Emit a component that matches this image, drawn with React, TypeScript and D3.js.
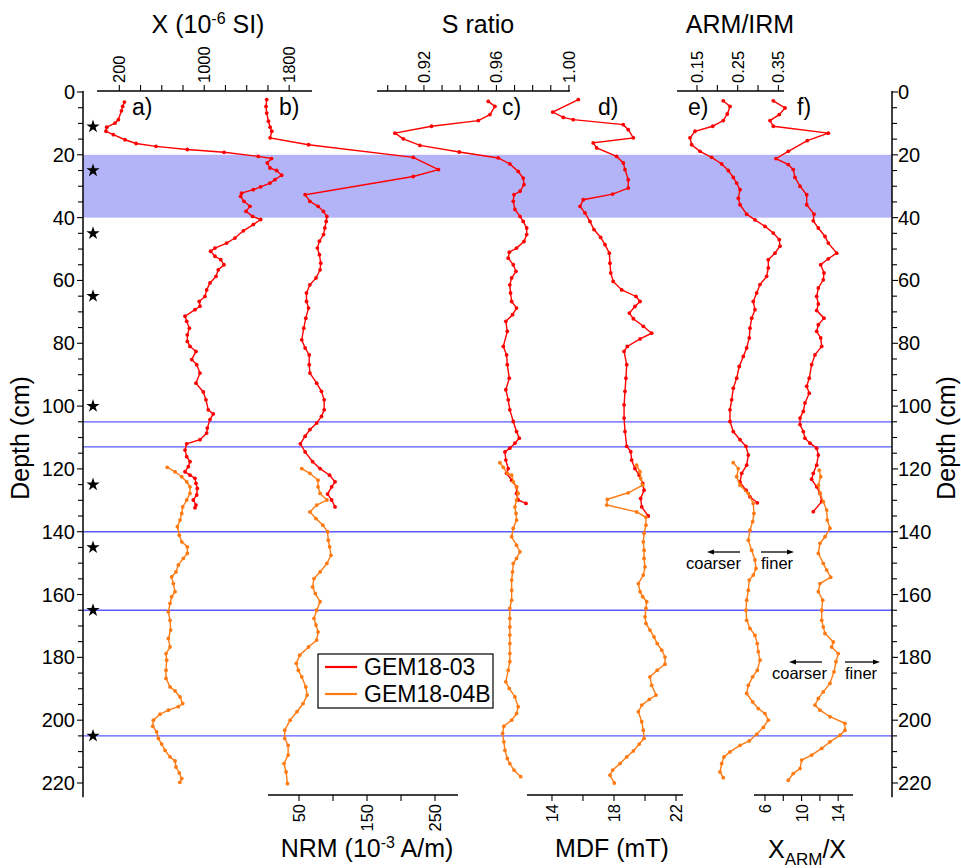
import React from "react";
import * as d3 from "d3";

// ---------- data: [depth (cm), value] ----------
const chi03: [number, number][] = [[3.2,248],[4.6,232],[6,220],[8.8,191],[9.9,160],[11.2,82],[12.5,75],[13.6,144],[15.2,254],[16.4,358],[17.3,546],[18.3,841],[19.2,1186],[20.5,1509],[21.2,1634],[22.6,1594],[24.2,1619],[25,1682],[26.5,1729],[27.9,1666],[29,1619],[30.2,1531],[31.1,1462],[32.2,1352],[33.2,1343],[34.8,1374],[36.4,1431],[38,1393],[39.6,1456],[40.6,1531],[42.2,1462],[44.2,1368],[46.5,1289],[48.1,1211],[49.7,1101],[50.7,1060],[52.3,1101],[53.4,1155],[55,1186],[56.6,1132],[58.7,1111],[60.8,1054],[63,1023],[65.1,1007],[66.7,953],[68.2,960],[69.3,913],[71.4,819],[73,835],[75.2,860],[77.3,841],[79.4,841],[81,866],[82.6,922],[85.2,882],[86.8,929],[89.5,960],[92.7,922],[95.5,991],[98,1016],[101.2,1038],[102.5,1085],[104.3,1054],[107,1029],[108.6,1023],[110.7,960],[112,835],[114,819],[116.1,835],[117.7,866],[119.3,850],[120.9,819],[122,866],[123,913],[124.6,922],[126.2,935],[128.3,929],[129.9,897],[131.5,922],[132.4,913]];
const chi04: [number, number][] = [[119.5,652],[120.9,725],[122.5,788],[124.1,835],[125.7,866],[127.8,866],[129.9,835],[132.1,797],[134.2,788],[136.3,772],[138.4,747],[141.1,765],[143.2,788],[144.8,841],[146.9,841],[148.5,803],[150.6,756],[152.8,734],[154.4,693],[156.5,709],[159.1,725],[160.7,693],[162.8,678],[165.5,662],[168.2,678],[171.3,684],[174,662],[176.7,678],[178.8,640],[180.9,646],[184.1,640],[186.7,640],[189.4,678],[190.7,725],[192.6,772],[194.7,797],[195.7,756],[196.8,662],[198.1,584],[200,521],[201.9,515],[203.7,552],[205.8,568],[207.6,599],[209.6,631],[211.7,678],[213,725],[214.9,734],[216.8,765],[218.6,788],[219.8,770]];

const nrm03: [number, number][] = [[2.4,2.5],[4.6,1.5],[6.7,2.5],[9.3,5],[11.2,7.5],[12.5,10],[14.6,7.5],[16.8,64],[20.8,218],[24.7,255],[26.9,218],[32.7,59],[34.8,66],[36.4,78],[38,86],[39.6,91],[41.2,90],[43.3,88],[45.4,86],[47.5,80],[49.7,77],[51.8,80],[54.5,82],[56.6,81],[59.2,75],[61.4,66],[64,61],[66.7,61],[68.8,64],[72,60],[75.2,57],[78.9,54],[81.5,59],[83.7,65],[86.8,65],[89.5,66],[92.7,76],[95.3,83],[98,87],[101.2,87],[103.3,83],[105.4,76],[107.5,66],[109.6,59],[112,52],[114.6,59],[117.7,70],[119.9,81],[122,95],[124.1,103],[125.7,98],[128,92],[129.9,98],[132.1,103]];
const nrm04: [number, number][] = [[119.9,54],[121.4,66],[123.6,78],[125.7,78],[127.8,81],[129.9,91],[131.5,76],[133.7,66],[135.8,75],[137.9,85],[140,92],[142.7,93],[144.8,95],[147.5,97],[150.1,91],[152.8,81],[154.9,72],[157.6,70],[159.7,74],[162.3,81],[165,76],[167.6,72],[169.7,75],[171.9,78],[174.5,76],[176.7,64],[179.3,51],[181.9,46],[184.1,49],[186.2,54],[189.4,60],[192,62],[194.7,56],[197.3,47],[200,37],[203.2,29],[205.8,29],[208,34],[211.1,34],[213.8,28],[216.5,31],[220.2,33]];

const sr03: [number, number][] = [[3,0.9555],[4.6,0.9592],[7.2,0.9564],[9.1,0.95],[10.9,0.9242],[13.1,0.904],[14.9,0.9086],[17,0.9178],[19.1,0.9395],[21,0.961],[22.9,0.9674],[25.3,0.972],[27.4,0.9748],[29.5,0.9752],[31.6,0.973],[32.7,0.9697],[34.8,0.9693],[37.4,0.9702],[39.6,0.973],[41.2,0.9748],[43.3,0.9767],[45.4,0.9767],[47.6,0.9752],[49.7,0.9711],[51,0.9671],[52.9,0.9665],[55,0.9693],[57.1,0.9708],[59.2,0.9684],[61.4,0.9674],[64,0.9678],[66.7,0.9684],[68.8,0.9711],[70.9,0.9689],[73,0.9652],[76.2,0.966],[81,0.9638],[83.7,0.9656],[86.8,0.966],[91.1,0.9671],[94.8,0.9652],[98,0.9665],[101.2,0.9674],[104.9,0.9693],[108.1,0.9711],[110.2,0.9726],[111.8,0.9702],[113.4,0.9674],[114.6,0.9647],[117.2,0.9652],[119.9,0.9665],[121.4,0.9656],[123.6,0.9684],[125.7,0.9711],[127.8,0.9711],[129.9,0.972],[131,0.9763]];
const sr04: [number, number][] = [[118,0.9619],[119.5,0.9638],[121.4,0.966],[122,0.9684],[124.1,0.9693],[125.7,0.9711],[127.8,0.972],[129.9,0.9711],[132.1,0.9702],[134.2,0.9708],[136.3,0.9711],[138.9,0.9693],[141.6,0.9684],[144.3,0.9711],[146.4,0.973],[148.5,0.9711],[150.1,0.9693],[152.8,0.9689],[155.4,0.9684],[158.6,0.9684],[161.8,0.9684],[164.4,0.9674],[167.6,0.9674],[170.3,0.9674],[172.9,0.9674],[175.6,0.9674],[178.8,0.9674],[181.4,0.9674],[184.1,0.9665],[187.8,0.9652],[189.9,0.9671],[192.6,0.9702],[195.7,0.972],[197.9,0.9711],[200,0.9684],[201.9,0.9641],[204.2,0.9634],[206.9,0.9641],[209.6,0.9647],[212.2,0.966],[213.8,0.9674],[215.9,0.9697],[218,0.9734]];

const mdf03: [number, number][] = [[2.4,15.7],[6.4,14.05],[8.1,14.73],[8.8,15.37],[10.4,18.6],[12,18.92],[14.6,19.25],[16.2,16.66],[17.8,16.88],[20.5,18.17],[22.6,18.6],[24.7,18.71],[27.9,18.92],[30.6,18.92],[32.5,17.91],[34.3,16.02],[36.4,15.81],[38.5,16.13],[41.2,16.45],[43.8,16.71],[46.3,17.14],[48.6,17.42],[51.3,17.7],[54.5,17.74],[57.6,17.79],[60.3,17.95],[63,18.5],[65.1,19.42],[66.7,19.68],[68.3,19.35],[70.4,18.99],[72.2,19.25],[74.6,19.89],[76.8,20.43],[78.6,19.68],[81,18.86],[82.6,18.65],[86.8,18.82],[91.1,18.77],[95.3,18.71],[99.6,18.65],[103.8,18.65],[108.1,18.71],[112.8,18.82],[114.5,19.08],[117.2,19.14],[119.9,19.35],[122,19.63],[124.6,19.85],[126.8,19.94],[129.4,19.72],[132.1,19.79],[135,20.21]];
const mdf04: [number, number][] = [[118.8,19.46],[120.9,19.68],[123,19.72],[125.2,19.85],[127.6,18.92],[129.7,17.57],[131.5,17.53],[133.7,19.46],[135.4,20.06],[137.9,20.06],[140.5,19.94],[143.2,19.89],[145.9,19.94],[148.5,19.94],[151.2,20],[153.8,19.89],[156.5,19.57],[159.1,19.68],[160.7,19.85],[162.3,20.11],[164.4,20.06],[167.1,20],[169.2,20.06],[171.3,20.32],[173.5,20.58],[175.6,20.79],[177.7,21.08],[179.9,21.29],[182.2,21.29],[184.1,20.79],[186.2,20.32],[188.9,20.43],[192,20.71],[193.4,20.28],[195.2,19.79],[197.3,19.57],[200.5,19.79],[203.2,19.89],[205.8,19.94],[207.6,19.63],[209.8,19.25],[211.7,18.82],[213.8,18.39],[215.9,17.91],[217.5,17.74],[220,18.02]];

const ai03: [number, number][] = [[2.8,0.2146],[4.6,0.2311],[7,0.2245],[9.1,0.2146],[10.9,0.1886],[12.5,0.1451],[14.6,0.1328],[16.8,0.137],[18.9,0.1574],[20.8,0.1861],[22.9,0.2107],[25,0.2269],[27.2,0.2392],[29,0.2475],[31.1,0.2557],[33.8,0.2515],[35.9,0.2557],[38.9,0.2721],[40.7,0.2925],[42.8,0.3171],[44.9,0.3375],[47,0.3522],[49.1,0.3539],[51.3,0.3416],[53.4,0.3252],[56,0.3252],[58.7,0.3212],[61.3,0.3048],[64,0.2967],[66.7,0.2883],[69.3,0.2925],[72,0.2844],[75.2,0.2802],[78.3,0.2785],[81.5,0.2721],[84.2,0.2638],[87.4,0.2539],[91.1,0.2475],[94.3,0.2392],[98,0.2353],[101.2,0.2311],[104.9,0.2311],[108.1,0.2392],[110.7,0.2557],[112.8,0.2704],[115.6,0.2761],[118.8,0.2721],[121.4,0.2598],[124.1,0.2557],[126.8,0.2704],[128.9,0.2802],[130.8,0.2982]];
const ai04: [number, number][] = [[118,0.2392],[119.9,0.2515],[122.5,0.2475],[125.2,0.2557],[127.8,0.2761],[131,0.2883],[134.2,0.29],[136.8,0.2868],[139.5,0.2802],[142.7,0.2761],[145.9,0.2844],[149,0.2925],[151.7,0.295],[153.8,0.2883],[155.4,0.2785],[158.6,0.2761],[161.8,0.2721],[165,0.2704],[168.2,0.2721],[170.8,0.2802],[173,0.2925],[175.6,0.2982],[178.2,0.3006],[180.9,0.3048],[184.1,0.2982],[186.2,0.2868],[188.9,0.2761],[191.5,0.2721],[194.2,0.2868],[196.3,0.3006],[197.9,0.3171],[200,0.3252],[202.3,0.3129],[204.5,0.2967],[206.6,0.2785],[208,0.2557],[210.1,0.2311],[211.7,0.2163],[213.8,0.2107],[216.5,0.2065],[218.3,0.2146]];

const xa03: [number, number][] = [[2.8,6.91],[5.1,8.19],[7.2,7.56],[9.1,6.55],[10.9,6.91],[13.1,12.92],[15.5,10.62],[18.9,8.55],[21.2,7.2],[23.1,8.55],[24.7,9.09],[27.2,9.28],[30,9.83],[32.7,10.56],[35.9,10.56],[38.9,11.36],[41,11.28],[43.3,11.83],[46,12.56],[48.1,12.92],[51.3,13.84],[53.1,12.92],[55,12.09],[57.6,12.45],[59.8,12.37],[62.4,11.83],[65.1,11.65],[67.5,11.83],[69.6,11.65],[72,12.45],[74.1,11.83],[76.2,11.65],[78.3,12.09],[81,12.2],[83.7,11.46],[86.8,11.1],[91.1,10.84],[93.7,10.56],[95.9,10.84],[99,10.37],[101.7,10.19],[103.8,9.83],[105.9,9.83],[108.1,10.19],[110.2,10.37],[111.8,10.92],[113.4,11.65],[115.6,11.83],[118.8,11.65],[121.4,11.28],[123.3,11.1],[125.7,11.65],[127.8,12.01],[130.4,12.2],[133.6,11.28]];
const xa04: [number, number][] = [[120.4,11.93],[122.5,12.09],[125.2,11.83],[127.8,12.01],[130.4,12.37],[133.1,12.74],[136.3,12.81],[138.9,13.1],[141.6,12.56],[143.7,12.01],[146.9,11.83],[150.1,12.37],[152.2,12.74],[154.5,13.18],[156.5,12.01],[159.1,11.83],[161.8,12.31],[165,12.2],[168.2,12.2],[170.3,12.37],[172.4,12.56],[175.1,13.47],[176.7,13.29],[178.8,14.01],[181.4,13.76],[184.6,13.54],[188.3,13.1],[191,12.37],[193.1,11.83],[195.2,11.46],[196.8,12.01],[198.9,13.1],[201,14.74],[203.2,14.74],[204.8,14.2],[206.9,13.1],[209,12.2],[211.1,11.1],[212.7,10.01],[215.4,9.83],[217,9.09],[219.1,8.55]];

const starDepths = [11, 25, 45, 65, 100, 125, 145, 165, 205];
const hLineDepths = [105, 113, 140, 165, 205];
const bandDepths = [20, 40];
const depthMajor = [0, 20, 40, 60, 80, 100, 120, 140, 160, 180, 200, 220];

const chiTicks = [200, 400, 600, 800, 1000, 1200, 1400, 1600, 1800];
const chiLabels = [200, 1000, 1800];
const srTicks = [0.9, 0.91, 0.92, 0.93, 0.94, 0.95, 0.96, 0.97, 0.98, 0.99, 1.0];
const srLabels = [0.92, 0.96, 1.0];
const aiTicks = [0.15, 0.2, 0.25, 0.3, 0.35];
const aiLabels = [0.15, 0.25, 0.35];
const nrmTicks = [50, 100, 150, 200, 250];
const nrmLabels = [50, 150, 250];
const mdfTicks = [14, 16, 18, 20, 22];
const mdfLabels = [14, 18, 22];
const xaTicks = [6, 8, 10, 12, 14];
const xaLabels = [6, 10, 14];

const legendNames = ["GEM18-03", "GEM18-04B"];

// ---------- styling / layout ----------
const FONT = "'Liberation Sans', Arial, Helvetica, sans-serif";
const RED = "#ff0000";
const ORANGE = "#ff7a12";
const BLUE = "#5a5aff";
const BAND = "#b3b3f8";

const W = 961, H = 868;
const X0 = 83, X1 = 892; // depth axes
const TOP_Y = 91, BOT_Y = 795;

const y = d3.scaleLinear().domain([0, 220]).range([92, 783]);
const xChi = d3.scaleLinear().domain([-10, 2015]).range([97, 312]);
const xNrm = d3.scaleLinear().domain([4.4, 283.8]).range([268, 458]);
const xSr = d3.scaleLinear().domain([0.8941, 1.0006]).range([377, 570]);
const xMdf = d3.scaleLinear().domain([12.39, 22.45]).range([527, 683]);
const xAi = d3.scaleLinear().domain([0.1009, 0.3638]).range([677, 784]);
const xXa = d3.scaleLinear().domain([4.8, 15.62]).range([754, 853]);

function Series({ data, x, color }: { data: [number, number][]; x: d3.ScaleLinear<number, number>; color: string }) {
  const line = d3.line<[number, number]>().x((d) => x(d[1])).y((d) => y(d[0]));
  return (
    <g>
      <path d={line(data) || ""} fill="none" stroke={color} strokeWidth={1.4} />
      {data.map((d, i) => (
        <circle key={i} cx={x(d[1])} cy={y(d[0])} r={1.9} fill={color} />
      ))}
    </g>
  );
}

function fmt(v: number, dec: number) {
  return v.toFixed(dec);
}

function TopAxis({ x, ticks, labels, dec }: { x: d3.ScaleLinear<number, number>; ticks: number[]; labels: number[]; dec: number }) {
  const [r0, r1] = x.range();
  return (
    <g>
      <line x1={r0} x2={r1} y1={TOP_Y} y2={TOP_Y} stroke="#000" strokeWidth={1.3} />
      {ticks.map((t) => (
        <line key={t} x1={x(t)} x2={x(t)} y1={TOP_Y} y2={TOP_Y - 6} stroke="#000" strokeWidth={1.1} />
      ))}
      {labels.map((t) => (
        <text key={t} transform={`translate(${x(t)},${TOP_Y - 8}) rotate(-90)`} textAnchor="start" dominantBaseline="central" fontSize={16.5} fontFamily={FONT}>
          {fmt(t, dec)}
        </text>
      ))}
    </g>
  );
}

function BottomAxis({ x, ticks, labels, dec }: { x: d3.ScaleLinear<number, number>; ticks: number[]; labels: number[]; dec: number }) {
  const [r0, r1] = x.range();
  return (
    <g>
      <line x1={r0} x2={r1} y1={BOT_Y} y2={BOT_Y} stroke="#000" strokeWidth={1.3} />
      {ticks.map((t) => (
        <line key={t} x1={x(t)} x2={x(t)} y1={BOT_Y} y2={BOT_Y + 6} stroke="#000" strokeWidth={1.1} />
      ))}
      {labels.map((t) => (
        <text key={t} transform={`translate(${x(t)},${BOT_Y + 9}) rotate(-90)`} textAnchor="end" dominantBaseline="central" fontSize={16.5} fontFamily={FONT}>
          {fmt(t, dec)}
        </text>
      ))}
    </g>
  );
}

function Arrow({ x1, x2, yy }: { x1: number; x2: number; yy: number }) {
  const dir = Math.sign(x2 - x1);
  return (
    <g>
      <line x1={x1} x2={x2 - dir * 5} y1={yy} y2={yy} stroke="#000" strokeWidth={1.3} />
      <path d={`M${x2},${yy} L${x2 - dir * 7},${yy - 2.5} L${x2 - dir * 7},${yy + 2.5} Z`} fill="#000" />
    </g>
  );
}

export default function App() {
  const minor = d3.range(0, 221, 5);
  const star = d3.symbol().type(d3.symbolStar).size(55)() || "";
  return (
    <svg width={W} height={H} style={{ display: "block", position: "absolute", left: 0, top: 0 }} fontFamily={FONT}>
      <rect width={W} height={H} fill="#fff" />
      {/* band and horizontal lines */}
      <rect x={X0} width={X1 - X0} y={y(bandDepths[0])} height={y(bandDepths[1]) - y(bandDepths[0])} fill={BAND} />
      {hLineDepths.map((d) => (
        <line key={d} x1={X0} x2={X1} y1={y(d)} y2={y(d)} stroke={BLUE} strokeWidth={1.3} />
      ))}

      {/* left depth axis */}
      <line x1={X0} x2={X0} y1={y(0) - 1} y2={y(224.5)} stroke="#000" strokeWidth={1.5} />
      {minor.map((d) => (
        <line key={d} x1={X0} x2={X0 - (d % 20 === 0 ? 6 : 5)} y1={y(d)} y2={y(d)} stroke="#000" strokeWidth={1.1} />
      ))}
      {depthMajor.map((d) => (
        <text key={d} x={X0 - 8} y={y(d)} textAnchor="end" dominantBaseline="central" fontSize={20}>
          {d}
        </text>
      ))}
      <text transform={`translate(29,${438}) rotate(-90)`} textAnchor="middle" fontSize={25}>Depth (cm)</text>

      {/* right depth axis */}
      <line x1={X1} x2={X1} y1={y(0) - 1} y2={y(224.5)} stroke="#000" strokeWidth={1.5} />
      {minor.map((d) => (
        <line key={d} x1={X1} x2={X1 + (d % 20 === 0 ? 6 : 5)} y1={y(d)} y2={y(d)} stroke="#000" strokeWidth={1.1} />
      ))}
      {depthMajor.map((d) => (
        <text key={d} x={X1 + 6} y={y(d)} textAnchor="start" dominantBaseline="central" fontSize={20}>
          {d}
        </text>
      ))}
      <text transform={`translate(955,${438}) rotate(-90)`} textAnchor="middle" fontSize={25}>Depth (cm)</text>

      {/* stars */}
      {starDepths.map((d) => (
        <path key={d} d={star} transform={`translate(93,${y(d)})`} fill="#000" />
      ))}

      {/* axes */}
      <TopAxis x={xChi} ticks={chiTicks} labels={chiLabels} dec={0} />
      <TopAxis x={xSr} ticks={srTicks} labels={srLabels} dec={2} />
      <TopAxis x={xAi} ticks={aiTicks} labels={aiLabels} dec={2} />
      <BottomAxis x={xNrm} ticks={nrmTicks} labels={nrmLabels} dec={0} />
      <BottomAxis x={xMdf} ticks={mdfTicks} labels={mdfLabels} dec={0} />
      <BottomAxis x={xXa} ticks={xaTicks} labels={xaLabels} dec={0} />

      {/* titles */}
      <text x={208} y={33} textAnchor="middle" fontSize={25}>
        X (10<tspan dy={-9} fontSize={16}>-6</tspan><tspan dy={9}> SI)</tspan>
      </text>
      <text x={478} y={33} textAnchor="middle" fontSize={25}>S ratio</text>
      <text x={740} y={33} textAnchor="middle" fontSize={25}>ARM/IRM</text>
      <text x={367} y={857} textAnchor="middle" fontSize={25}>
        NRM (10<tspan dy={-9} fontSize={16}>-3</tspan><tspan dy={9}> A/m)</tspan>
      </text>
      <text x={612} y={857} textAnchor="middle" fontSize={25}>MDF (mT)</text>
      <text x={807} y={858} textAnchor="middle" fontSize={25}>
        X<tspan dy={7} fontSize={17}>ARM</tspan><tspan dy={-7}>/X</tspan>
      </text>

      {/* panel labels */}
      {[["a)", 132], ["b)", 279], ["c)", 502], ["d)", 598], ["e)", 688], ["f)", 797]].map(([t, xx]) => (
        <text key={t as string} x={xx as number} y={115} fontSize={23}>{t}</text>
      ))}

      {/* series */}
      <Series data={chi03} x={xChi} color={RED} />
      <Series data={chi04} x={xChi} color={ORANGE} />
      <Series data={nrm03} x={xNrm} color={RED} />
      <Series data={nrm04} x={xNrm} color={ORANGE} />
      <Series data={sr03} x={xSr} color={RED} />
      <Series data={sr04} x={xSr} color={ORANGE} />
      <Series data={mdf03} x={xMdf} color={RED} />
      <Series data={mdf04} x={xMdf} color={ORANGE} />
      <Series data={ai03} x={xAi} color={RED} />
      <Series data={ai04} x={xAi} color={ORANGE} />
      <Series data={xa03} x={xXa} color={RED} />
      <Series data={xa04} x={xXa} color={ORANGE} />

      {/* coarser / finer annotations */}
      <Arrow x1={740} x2={707} yy={552} />
      <Arrow x1={761} x2={794} yy={552} />
      <text x={686} y={569} fontSize={16.5}>coarser</text>
      <text x={761} y={569} fontSize={16.5}>finer</text>
      <Arrow x1={822} x2={789} yy={662} />
      <Arrow x1={845} x2={880} yy={662} />
      <text x={772} y={679} fontSize={16.5}>coarser</text>
      <text x={845} y={679} fontSize={16.5}>finer</text>

      {/* legend */}
      <rect x={318} y={654} width={175} height={54} fill="#fff" stroke="#000" strokeWidth={1.2} />
      {legendNames.map((n, i) => (
        <g key={n}>
          <line x1={325} x2={357} y1={667 + i * 27} y2={667 + i * 27} stroke={i === 0 ? RED : ORANGE} strokeWidth={2.2} />
          <text x={364} y={667 + i * 27} dominantBaseline="central" fontSize={23}>{n}</text>
        </g>
      ))}
    </svg>
  );
}
